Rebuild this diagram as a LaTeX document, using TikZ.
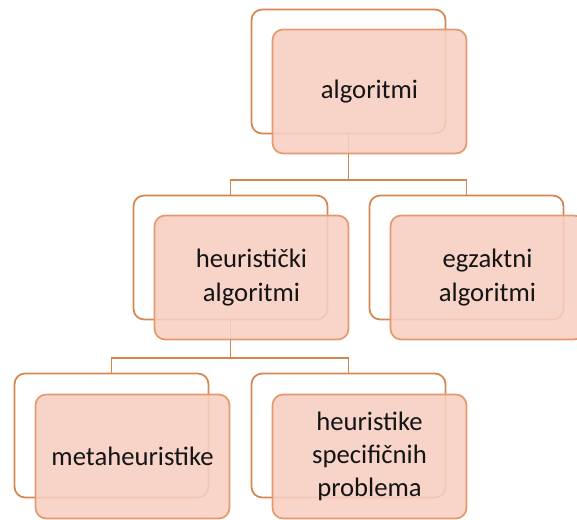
\documentclass[tikz,border=0pt]{standalone}
\usepackage{fontspec}
\setmainfont{Carlito}
\usetikzlibrary{positioning}

\definecolor{boxline}{HTML}{D4864E}
\definecolor{boxfront}{HTML}{E4996E}
\definecolor{boxfill}{HTML}{F8CFC1}
\definecolor{boxtext}{HTML}{141414}

\tikzset{
  backbox/.style={draw=boxline, line width=1.3pt, fill=white, rounded corners=8pt,
    minimum width=145.5pt, minimum height=93pt, inner sep=0pt},
  frontbox/.style={draw=boxfront, line width=1.3pt, fill=boxfill, fill opacity=0.88,
    text opacity=1, text=boxtext, rounded corners=8pt, align=center,
    minimum width=145.5pt, minimum height=93pt, inner sep=0pt,
    font=\fontsize{20}{25}\selectfont},
  link/.style={draw=boxline, line width=1.3pt}
}

\begin{document}
\begin{tikzpicture}[x=0.75pt, y=-0.75pt]
\useasboundingbox (0,0) rectangle (577,520);
% back boxes
\node[backbox] (algb) at (348.5,71.5) {};
\node[backbox] (heurb) at (230.5,257.5) {};
\node[backbox] (egzb) at (466.5,257.5) {};
\node[backbox] (metab) at (111.5,435.5) {};
\node[backbox] (specb) at (348.5,435.5) {};
% connectors
\coordinate (j1) at (348.5,180);
\coordinate (j2) at (230.5,358);
\draw[link] (algb.south) -- (j1) -| (heurb.north);
\draw[link] (j1) -| (egzb.north);
\draw[link] (heurb.south) -- (j2) -| (metab.north);
\draw[link] (j2) -| (specb.north);
% front boxes
\node[frontbox] (alg) at ([shift={(21,20)}]algb.center) {algoritmi};
\node[frontbox] (heur) at ([shift={(21,20)}]heurb.center) {heuristički\\algoritmi};
\node[frontbox] (egz) at ([shift={(21,20)}]egzb.center) {egzaktni\\algoritmi};
\node[frontbox] (meta) at ([shift={(21,21)}]metab.center) {metaheuristike};
\node[frontbox] (spec) at ([shift={(21,21)}]specb.center) {heuristike\\specifičnih\\problema};
\end{tikzpicture}
\end{document}
